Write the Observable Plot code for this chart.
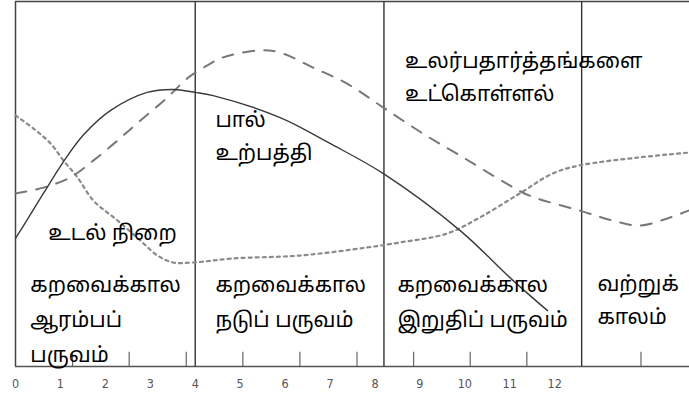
<!DOCTYPE html>
<html>
<head>
<meta charset="utf-8">
<script src="https://cdn.jsdelivr.net/npm/d3@7"></script>
<script src="https://cdn.jsdelivr.net/npm/@observablehq/plot@0.6"></script>
<style>
  html, body { margin: 0; padding: 0; background: #fff; }
  svg { display: block; }
</style>
</head>
<body>
<div id="chart"></div>
<script>
// Month values (x)
const milkX = [0, 0.33, 0.62, 1.04, 1.51, 2.11, 2.93, 3.51, 4.0, 4.4, 5.89, 7.0, 8.18, 9.89, 11.07, 11.84];
const milkY = [35.1, 41.6, 47.4, 55.6, 63.4, 70.1, 75.1, 75.9, 75.1, 74.2, 68.2, 61.1, 52.9, 37.3, 23.6, 15.3];

const intakeX = [0, 0.62, 1.22, 1.73, 2.27, 2.78, 3.38, 3.82, 4.27, 4.62, 5.44, 5.89, 6.62, 7.38, 8.18, 9.07, 9.96, 10.93, 11.44, 12.56, 13.29, 13.89, 14.49, 14.98];
const intakeY = [47.4, 49.0, 51.8, 56.4, 61.9, 67.4, 73.7, 78.9, 82.5, 84.7, 86.6, 86.0, 81.9, 77.5, 71.0, 63.8, 57.3, 50.1, 46.8, 42.7, 40.0, 38.6, 40.5, 42.7];

const weightX = [0, 0.4, 0.78, 1.07, 1.38, 1.73, 2.27, 2.78, 3.16, 3.51, 3.96, 4.84, 6.33, 7.82, 8.56, 9.6, 10.33, 11.22, 11.96, 12.56, 13.89, 14.98];
const weightY = [68.8, 65.2, 61.1, 56.4, 51.8, 45.5, 40.0, 34.5, 30.4, 28.5, 28.5, 29.6, 30.4, 32.6, 34.0, 36.4, 40.8, 47.4, 52.9, 55.1, 57.3, 58.6];

// Phase dividers and tick marks
const dividers = [4, 8.2, 12.6];
const tickLabels = ["0","1","2","3","4","5","6","7","8","9","10","11","12"];
const tickValues = [0,1,2,3,4,5,6,7,8,9,10,11,12];
const minorTicks = [1.27, 2.53, 3.8, 5.06, 6.33, 7.6, 8.86, 10.12, 11.38, 13.92];

// Labels
const curveLabels = [
  {x: 0.73, y: 36.5, text: "உடல் நிறை"},
  {x: 4.45, y: 67.5, text: "பால்"},
  {x: 4.45, y: 58.5, text: "உற்பத்தி"},
  {x: 8.67, y: 83.5, text: "உலர்பதார்த்தங்களை"},
  {x: 8.67, y: 74.5, text: "உட்கொள்ளல்"}
];
const phaseLabels = [
  {x: 0.33, y: 22.2, text: "கறவைக்கால"},
  {x: 0.33, y: 12.6, text: "ஆரம்பப்"},
  {x: 0.33, y: 3.0, text: "பருவம்"},
  {x: 4.45, y: 22.2, text: "கறவைக்கால"},
  {x: 4.45, y: 12.6, text: "நடுப் பருவம்"},
  {x: 8.5, y: 22.2, text: "கறவைக்கால"},
  {x: 8.5, y: 12.6, text: "இறுதிப் பருவம்"},
  {x: 12.95, y: 22.6, text: "வற்றுக்"},
  {x: 12.95, y: 13.4, text: "காலம்"}
];

const zip = (xs, ys) => xs.map((x, i) => ({x, y: ys[i]}));
const milk = zip(milkX, milkY);
const intake = zip(intakeX, intakeY);
const weight = zip(weightX, weightY);
const ticks = tickValues.map((v, i) => ({x: v, label: tickLabels[i]}));

const tamilFont = "'Noto Sans Tamil', 'Lohit Tamil', 'Latha', 'Noto Sans', sans-serif";

const chart = Plot.plot({
  width: 689,
  height: 399,
  marginLeft: 15,
  marginRight: 0,
  marginTop: 1,
  marginBottom: 33,
  x: {domain: [0, 15], axis: null},
  y: {domain: [0, 100], axis: null},
  style: {background: "#fff"},
  marks: [
    Plot.ruleY([100], {stroke: "#444", strokeWidth: 1.5}),
    Plot.ruleY([0], {stroke: "#555", strokeWidth: 1.5}),
    Plot.ruleX([0], {stroke: "#444", strokeWidth: 1.5}),
    Plot.ruleX(dividers, {stroke: "#333", strokeWidth: 1.4}),
    Plot.ruleX(minorTicks, {y1: 0, y2: 3.9, stroke: "#666", strokeWidth: 1.2}),
    Plot.line(weight, {x: "x", y: "y", curve: "catmull-rom", stroke: "#8a8a8a", strokeWidth: 2.2, strokeDasharray: "3,4"}),
    Plot.line(intake, {x: "x", y: "y", curve: "catmull-rom", stroke: "#777", strokeWidth: 2, strokeDasharray: "11,10"}),
    Plot.line(milk, {x: "x", y: "y", curve: "catmull-rom", stroke: "#3a3a3a", strokeWidth: 1.4}),
    Plot.text(ticks, {x: "x", y: 0, text: "label", dy: 17, fill: "#555", fontSize: 12.5, fontFamily: "'Liberation Sans Narrow', 'DejaVu Sans Condensed', sans-serif"}),
    Plot.text(curveLabels, {x: "x", y: "y", text: "text", textAnchor: "start", fontSize: 21, fill: "#000", fontFamily: tamilFont}),
    Plot.text(phaseLabels, {x: "x", y: "y", text: "text", textAnchor: "start", fontSize: 21, fill: "#000", fontFamily: tamilFont})
  ]
});
document.getElementById("chart").appendChild(chart);
</script>
</body>
</html>
